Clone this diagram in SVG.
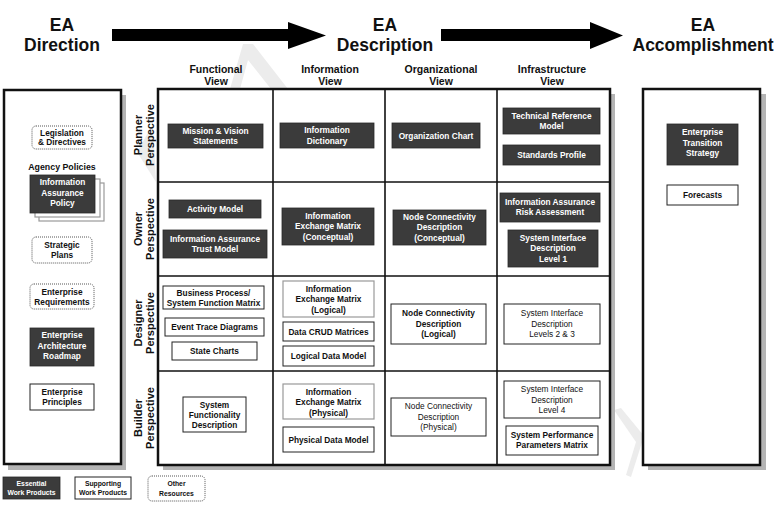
<svg xmlns="http://www.w3.org/2000/svg" width="779" height="506" viewBox="0 0 779 506">
<style>
text{font-family:"Liberation Sans",Arial,sans-serif;font-weight:bold;fill:#111}
.hd{font-size:17.5px;text-anchor:middle}
.ch{font-size:10.5px;text-anchor:middle}
.pl{font-size:11px;text-anchor:middle}
.bx{font-size:8.3px;text-anchor:middle}
.wt{fill:#fff}
.nw{font-weight:normal}
.lg{font-size:6.8px;text-anchor:middle}
.dark{fill:#3b3b3b;stroke:#2a2a2a;stroke-width:0.8}
.white{fill:#fff;stroke:#222;stroke-width:1}
.grey{fill:#fff;stroke:#999;stroke-width:1.2}
.dot{fill:#fff;stroke:#555;stroke-width:1;stroke-dasharray:1 1}
.shadow{fill:#b4b4b4}
.panel{fill:#fff;stroke:#111;stroke-width:2.5}
.wm{fill:#ececec}
</style>
<rect x="0" y="0" width="779" height="506" fill="#fff"/>
<!-- faint watermark -->
<path class="wm" d="M243,44 L253,44 L288,89 L271,89 L248,60 L240,89 L230,89 Z"/>
<path class="wm" d="M137,152 L153,124 L156,182 Z"/>
<path class="wm" d="M614,410 L621,408 L644,436 L631,477 L626,475 L636,442 Z"/>
<!-- headers -->
<g id="hdr-direction"><text class="hd" x="62" y="31">EA</text><text class="hd" x="62" y="51">Direction</text></g>
<g id="hdr-description"><text class="hd" x="385" y="31">EA</text><text class="hd" x="385" y="51">Description</text></g>
<g id="hdr-accomplishment"><text class="hd" x="703" y="31">EA</text><text class="hd" x="703" y="51">Accomplishment</text></g>
<g id="connectors">
<polygon fill="#000" points="112,29 288,29 288,22 326,35.5 288,49 288,41 112,41"/>
<polygon fill="#000" points="441,29 590,29 590,22 623,35.5 590,49 590,41 441,41"/>
</g>
<!-- column headers -->
<g id="col-headers">
<text class="ch" x="216" y="73">Functional</text><text class="ch" x="216" y="85">View</text>
<text class="ch" x="330" y="73">Information</text><text class="ch" x="330" y="85">View</text>
<text class="ch" x="441" y="73">Organizational</text><text class="ch" x="441" y="85">View</text>
<text class="ch" x="552" y="73">Infrastructure</text><text class="ch" x="552" y="85">View</text>
</g>
<!-- left panel -->
<g id="left-panel">
<rect class="shadow" x="8" y="95" width="118" height="375"/>
<rect class="panel" x="4" y="90" width="117" height="374"/>
</g>
<!-- right panel -->
<g id="right-panel">
<rect class="shadow" x="648" y="94" width="118" height="376"/>
<rect class="panel" x="643" y="89" width="117" height="376"/>
</g>
<!-- grid -->
<g id="grid">
<rect class="shadow" x="163" y="94" width="452" height="376"/>
<rect x="158" y="89" width="452" height="376" fill="#fff" stroke="#111" stroke-width="2.5"/>
<g stroke="#111" stroke-width="1.6">
<line x1="273" y1="89" x2="273" y2="465"/><line x1="385" y1="89" x2="385" y2="465"/><line x1="497" y1="89" x2="497" y2="465"/>
<line x1="158" y1="182" x2="610" y2="182"/><line x1="158" y1="276" x2="610" y2="276"/><line x1="158" y1="371" x2="610" y2="371"/>
</g>
</g>
<!-- perspective labels -->
<g id="persp-planner"><text class="pl" transform="translate(142,135) rotate(-90)">Planner</text><text class="pl" transform="translate(154,135) rotate(-90)">Perspective</text></g>
<g id="persp-owner"><text class="pl" transform="translate(142,229) rotate(-90)">Owner</text><text class="pl" transform="translate(154,229) rotate(-90)">Perspective</text></g>
<g id="persp-designer"><text class="pl" transform="translate(142,323) rotate(-90)">Designer</text><text class="pl" transform="translate(154,323) rotate(-90)">Perspective</text></g>
<g id="persp-builder"><text class="pl" transform="translate(142,418) rotate(-90)">Builder</text><text class="pl" transform="translate(154,418) rotate(-90)">Perspective</text></g>
<!-- left panel items -->
<g id="legislation"><rect class="dot" x="32" y="126" width="60" height="23" rx="4"/><text class="bx" x="62" y="135.5">Legislation</text><text class="bx" x="62" y="145">&amp; Directives</text></g>
<g id="agency-policies"><text class="bx" x="62" y="170" style="font-size:8.8px">Agency Policies</text></g>
<g id="ia-policy">
<rect class="grey" x="39" y="183" width="65" height="38"/>
<rect class="grey" x="35" y="179" width="65" height="38"/>
<rect class="dark" x="30" y="175" width="65" height="38"/>
<text class="bx wt" x="62.5" y="185">Information</text><text class="bx wt" x="62.5" y="195.5">Assurance</text><text class="bx wt" x="62.5" y="206">Policy</text>
</g>
<g id="strategic-plans"><rect class="dot" x="32" y="237" width="60" height="26" rx="4"/><text class="bx" x="62" y="248">Strategic</text><text class="bx" x="62" y="258">Plans</text></g>
<g id="enterprise-requirements"><rect class="dot" x="30" y="284" width="64" height="25" rx="4"/><text class="bx" x="62" y="294.5">Enterprise</text><text class="bx" x="62" y="304.5">Requirements</text></g>
<g id="ea-roadmap"><rect class="dark" x="30" y="328" width="64" height="38"/><text class="bx wt" x="62" y="338">Enterprise</text><text class="bx wt" x="62" y="348.5">Architecture</text><text class="bx wt" x="62" y="359">Roadmap</text></g>
<g id="enterprise-principles"><rect class="white" x="30" y="384" width="64" height="26"/><text class="bx" x="62" y="395">Enterprise</text><text class="bx" x="62" y="405">Principles</text></g>
<!-- planner row -->
<g id="mission-vision"><rect class="dark" x="168" y="124" width="95" height="24"/><text class="bx wt" x="215.5" y="134">Mission &amp; Vision</text><text class="bx wt" x="215.5" y="144">Statements</text></g>
<g id="info-dictionary"><rect class="dark" x="280" y="123" width="94" height="25"/><text class="bx wt" x="327" y="133">Information</text><text class="bx wt" x="327" y="143.5">Dictionary</text></g>
<g id="org-chart"><rect class="dark" x="392" y="123" width="88" height="25"/><text class="bx wt" x="436" y="138.5">Organization Chart</text></g>
<g id="tech-ref-model"><rect class="dark" x="503" y="108" width="97" height="26"/><text class="bx wt" x="551.5" y="119">Technical Reference</text><text class="bx wt" x="551.5" y="129">Model</text></g>
<g id="standards-profile"><rect class="dark" x="503" y="145" width="97" height="20"/><text class="bx wt" x="551.5" y="158">Standards Profile</text></g>
<!-- owner row -->
<g id="activity-model"><rect class="dark" x="169" y="200" width="92" height="18"/><text class="bx wt" x="215" y="212">Activity Model</text></g>
<g id="ia-trust-model"><rect class="dark" x="163" y="230" width="104" height="28"/><text class="bx wt" x="215" y="241.5">Information Assurance</text><text class="bx wt" x="215" y="252">Trust Model</text></g>
<g id="iem-conceptual"><rect class="dark" x="282" y="208" width="92" height="37"/><text class="bx wt" x="328" y="218.5">Information</text><text class="bx wt" x="328" y="229">Exchange Matrix</text><text class="bx wt" x="328" y="239.5">(Conceptual)</text></g>
<g id="ncd-conceptual"><rect class="dark" x="393" y="210" width="93" height="35"/><text class="bx wt" x="439.5" y="219.5">Node Connectivity</text><text class="bx wt" x="439.5" y="230">Description</text><text class="bx wt" x="439.5" y="240.5">(Conceptual)</text></g>
<g id="ia-risk"><rect class="dark" x="500" y="193" width="100" height="29"/><text class="bx wt" x="550" y="205">Information Assurance</text><text class="bx wt" x="550" y="214.5">Risk Assessment</text></g>
<g id="sid-level1"><rect class="dark" x="508" y="230" width="90" height="37"/><text class="bx wt" x="553" y="240.5">System Interface</text><text class="bx wt" x="553" y="251">Description</text><text class="bx wt" x="553" y="261.5">Level 1</text></g>
<!-- designer row -->
<g id="bp-sfm"><rect class="white" x="163" y="286" width="101" height="23"/><text class="bx" x="213.5" y="296">Business Process/</text><text class="bx" x="213.5" y="305.5">System Function Matrix</text></g>
<g id="event-trace"><rect class="white" x="165" y="318" width="99" height="18"/><text class="bx" x="214.5" y="330">Event Trace Diagrams</text></g>
<g id="state-charts"><rect class="white" x="172" y="342" width="85" height="18"/><text class="bx" x="214.5" y="354">State Charts</text></g>
<g id="iem-logical"><rect class="grey" x="283" y="281" width="91" height="36"/><text class="bx" x="328.5" y="291.5">Information</text><text class="bx" x="328.5" y="302">Exchange Matrix</text><text class="bx" x="328.5" y="312.5">(Logical)</text></g>
<g id="data-crud"><rect class="white" x="283" y="322" width="91" height="19"/><text class="bx" x="328.5" y="334.5">Data CRUD Matrices</text></g>
<g id="logical-data-model"><rect class="white" x="283" y="346" width="91" height="20"/><text class="bx" x="328.5" y="359">Logical Data Model</text></g>
<g id="ncd-logical"><rect class="white" x="391" y="304" width="95" height="40"/><text class="bx" x="438.5" y="316">Node Connectivity</text><text class="bx" x="438.5" y="326.5">Description</text><text class="bx" x="438.5" y="337">(Logical)</text></g>
<g id="sid-levels23"><rect class="white" x="504" y="304" width="96" height="40"/><text class="bx nw" x="552" y="316">System Interface</text><text class="bx nw" x="552" y="326.5">Description</text><text class="bx nw" x="552" y="337">Levels 2 &amp; 3</text></g>
<!-- builder row -->
<g id="sys-func-desc"><rect class="white" x="183" y="397" width="63" height="35"/><text class="bx" x="214.5" y="408">System</text><text class="bx" x="214.5" y="418">Functionality</text><text class="bx" x="214.5" y="428">Description</text></g>
<g id="iem-physical"><rect class="grey" x="283" y="384" width="91" height="35"/><text class="bx" x="328.5" y="394.5">Information</text><text class="bx" x="328.5" y="405">Exchange Matrix</text><text class="bx" x="328.5" y="415.5">(Physical)</text></g>
<g id="physical-data-model"><rect class="white" x="283" y="427" width="91" height="25"/><text class="bx" x="328.5" y="442.5">Physical Data Model</text></g>
<g id="ncd-physical"><rect class="white" x="391" y="398" width="95" height="38"/><text class="bx nw" x="438.5" y="409">Node Connectivity</text><text class="bx nw" x="438.5" y="419.5">Description</text><text class="bx nw" x="438.5" y="430">(Physical)</text></g>
<g id="sid-level4"><rect class="white" x="504" y="381" width="96" height="37"/><text class="bx nw" x="552" y="392">System Interface</text><text class="bx nw" x="552" y="402.5">Description</text><text class="bx nw" x="552" y="413">Level 4</text></g>
<g id="sppm"><rect class="white" x="506" y="426" width="92" height="29"/><text class="bx" x="552" y="438">System Performance</text><text class="bx" x="552" y="448">Parameters Matrix</text></g>
<!-- right panel items -->
<g id="transition-strategy"><rect class="dark" x="667" y="124" width="71" height="41"/><text class="bx wt" x="702.5" y="135">Enterprise</text><text class="bx wt" x="702.5" y="145.5">Transition</text><text class="bx wt" x="702.5" y="156">Strategy</text></g>
<g id="forecasts"><rect class="white" x="667" y="185" width="71" height="20"/><text class="bx" x="702.5" y="198">Forecasts</text></g>
<!-- legend -->
<g id="legend-essential"><rect class="dark" x="3" y="477" width="57" height="22"/><text class="lg wt" x="31.5" y="486">Essential</text><text class="lg wt" x="31.5" y="495">Work Products</text></g>
<g id="legend-supporting"><rect class="white" x="75" y="477" width="56" height="22"/><text class="lg" x="103" y="486">Supporting</text><text class="lg" x="103" y="495">Work Products</text></g>
<g id="legend-other"><rect class="dot" x="148" y="476" width="57" height="25" rx="4"/><text class="lg" x="176.5" y="485.5">Other</text><text class="lg" x="176.5" y="495.5">Resources</text></g>
</svg>
